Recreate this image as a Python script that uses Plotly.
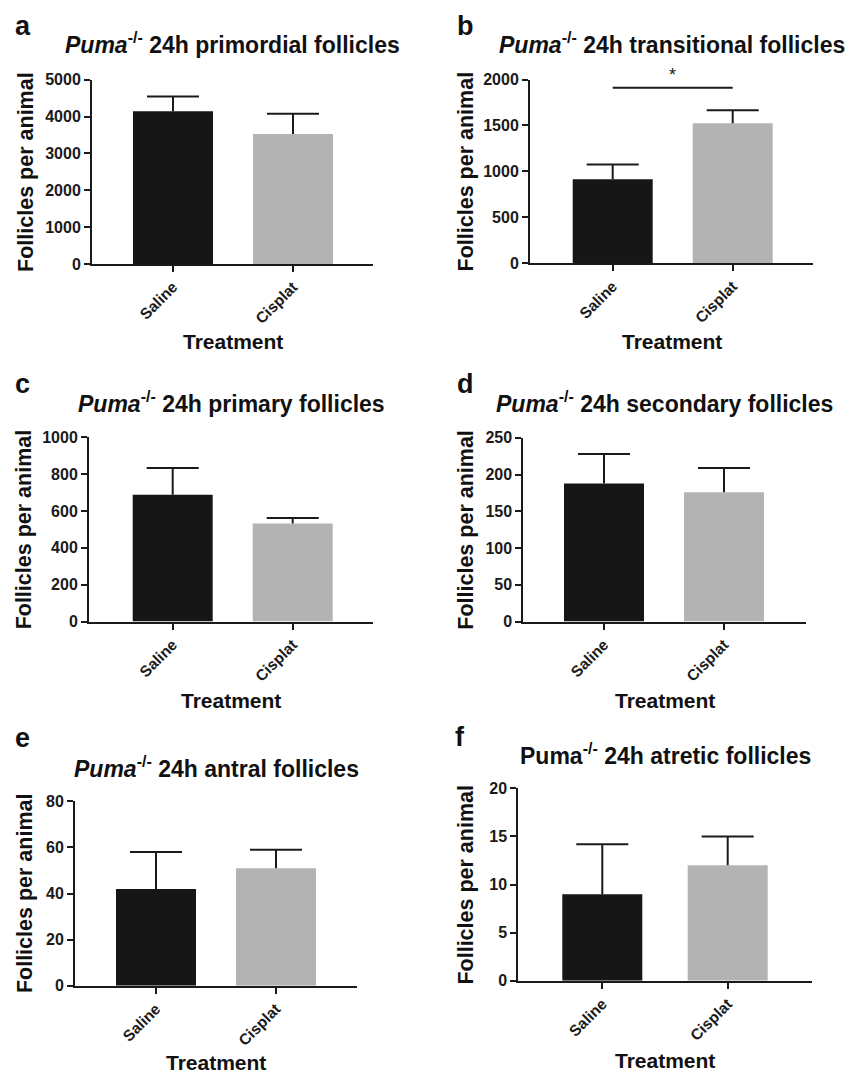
import plotly.graph_objects as go

# ---------------- data ----------------
categories = ["Saline", "Cisplat"]

primordial_mean = [4150, 3530]
primordial_sem = [395, 550]

transitional_mean = [915, 1525]
transitional_sem = [160, 140]

primary_mean = [688, 532]
primary_sem = [145, 30]

secondary_mean = [188, 176]
secondary_sem = [40, 33]

antral_mean = [42, 51]
antral_sem = [16, 8]

atretic_mean = [9, 12]
atretic_sem = [5.2, 3]

panel_letters = ["a", "b", "c", "d", "e", "f"]
panel_titles = [
    "<i>Puma</i><sup>-/-</sup> 24h primordial follicles",
    "<i>Puma</i><sup>-/-</sup> 24h transitional follicles",
    "<i>Puma</i><sup>-/-</sup> 24h primary follicles",
    "<i>Puma</i><sup>-/-</sup> 24h secondary follicles",
    "<i>Puma</i><sup>-/-</sup> 24h antral follicles",
    "Puma<sup>-/-</sup> 24h atretic follicles",
]
y_max = [5000, 2000, 1000, 250, 80, 20]
y_dtick = [1000, 500, 200, 50, 20, 5]
y_title = "Follicles per animal"
x_title = "Treatment"

# significance (panel b)
sig_y = 1910
sig_label = "*"

means = [primordial_mean, transitional_mean, primary_mean,
         secondary_mean, antral_mean, atretic_mean]
sems = [primordial_sem, transitional_sem, primary_sem,
        secondary_sem, antral_sem, atretic_sem]

# ---------------- layout geometry (pixels) ----------------
W, H = 859, 1088
# (axis left, axis right, tick0 x, tick1 x, top y, zero y)
geom = [
    (92, 373, 173, 293, 73, 260),
    (530, 813, 612.7, 732.7, 72.7, 259.3),
    (89, 373, 172.7, 292.7, 436, 623.3),
    (523.3, 806, 604, 724, 436.7, 623.3),
    (75, 357.3, 156, 276, 806, 993.3),
    (518.3, 811.7, 602.3, 727.7, 792.7, 988.3),
]
letter_pos = [(13, 30), (455, 30), (13, 393), (455, 393), (13, 753), (453, 752)]
title_base = [48, 48, 413, 413, 783, 770]
ytitle_x = [26, 466, 24, 466, 24.5, 466]
xtitle_base = [348, 348, 712, 712, 1080, 1078]

FONT = "Liberation Sans, Arial, sans-serif"
INK = "#1a1a1a"
colors = ["#161616", "#b3b3b3"]
CAP_PX = 26
BAR_PX = 80

fig = go.Figure()
annotations = []
shapes = []
layout = {}


def px(x):
    return x / W


def py(y):
    return 1 - y / H


for i in range(6):
    L, R, t0, t1, top, zero = geom[i]
    sfx = "" if i == 0 else str(i + 1)
    xa, ya = "x" + sfx, "y" + sfx
    unit = t1 - t0
    xr = [(L - t0) / unit, (R - t0) / unit]
    bw = BAR_PX / unit
    cap = CAP_PX / unit
    xpos = list(range(len(categories)))

    fig.add_trace(go.Bar(
        x=xpos, y=means[i], xaxis=xa, yaxis=ya,
        marker=dict(color=colors, line=dict(width=0)),
        width=[bw] * len(xpos),
        showlegend=False, hoverinfo="skip",
    ))

    # upper-only SEM whiskers
    ex, ey = [], []
    for k, (m, s) in enumerate(zip(means[i], sems[i])):
        ex += [k, k, None, k - cap, k + cap, None]
        ey += [m, m + s, None, m + s, m + s, None]
    fig.add_trace(go.Scatter(
        x=ex, y=ey, xaxis=xa, yaxis=ya, mode="lines",
        line=dict(color=INK, width=2), showlegend=False, hoverinfo="skip",
        cliponaxis=False,
    ))

    layout["xaxis" + sfx] = dict(
        domain=[px(L), px(R)], anchor=ya, range=xr,
        tickvals=xpos, ticktext=categories,
        showline=True, linecolor=INK, linewidth=2,
        ticks="outside", ticklen=6, tickwidth=2, tickcolor=INK,
        tickangle=-45, showgrid=False, zeroline=False,
        tickfont=dict(family=FONT, size=15.5, color=INK, weight="bold"),
        fixedrange=True,
    )
    layout["yaxis" + sfx] = dict(
        domain=[py(zero), py(top)], anchor=xa, range=[0, y_max[i]],
        dtick=y_dtick[i], tick0=0,
        showline=True, linecolor=INK, linewidth=2,
        ticks="outside", ticklen=6, tickwidth=2, tickcolor=INK,
        showgrid=False, zeroline=False,
        tickfont=dict(family=FONT, size=16, color=INK, weight="bold"),
        fixedrange=True,
    )

    # panel letter
    annotations.append(dict(
        text=panel_letters[i], xref="paper", yref="paper",
        x=px(letter_pos[i][0]), y=py(letter_pos[i][1] + 6),
        xanchor="left", yanchor="bottom", showarrow=False,
        font=dict(family=FONT, size=27, color="#111", weight="bold"),
    ))
    # title
    annotations.append(dict(
        text=panel_titles[i], xref="paper", yref="paper",
        x=px((L + R) / 2), y=py(title_base[i] + 5),
        xanchor="center", yanchor="bottom", showarrow=False,
        font=dict(family=FONT, size=23, color="#111", weight="bold"),
    ))
    # y-axis title
    annotations.append(dict(
        text=y_title, xref="paper", yref="paper",
        x=px(ytitle_x[i]), y=py((top + zero) / 2),
        xanchor="center", yanchor="middle", textangle=-90, showarrow=False,
        font=dict(family=FONT, size=21.5, color="#111", weight="bold"),
    ))
    # x-axis title
    annotations.append(dict(
        text=x_title, xref="paper", yref="paper",
        x=px((L + R) / 2), y=py(xtitle_base[i] + 5),
        xanchor="center", yanchor="bottom", showarrow=False,
        font=dict(family=FONT, size=21, color="#111", weight="bold"),
    ))

# significance bar on panel b
shapes.append(dict(type="line", xref="x2", yref="y2",
                   x0=0, x1=1, y0=sig_y, y1=sig_y,
                   line=dict(color=INK, width=2)))
annotations.append(dict(text=sig_label, xref="x2", yref="y2",
                        x=0.5, y=sig_y, yshift=1, xanchor="center",
                        yanchor="bottom", showarrow=False,
                        font=dict(family=FONT, size=18, color=INK)))

fig.update_layout(
    width=W, height=H, margin=dict(l=0, r=0, t=0, b=0),
    paper_bgcolor="white", plot_bgcolor="white",
    annotations=annotations, shapes=shapes,
    **layout,
)

post = (
    "document.documentElement.style.margin='0';"
    "document.documentElement.style.overflow='hidden';"
    "document.body.style.margin='0';"
    "document.body.style.overflow='hidden';"
)

fig.write_html(
    "out.html",
    config={"displayModeBar": False},
    post_script=post,
)
